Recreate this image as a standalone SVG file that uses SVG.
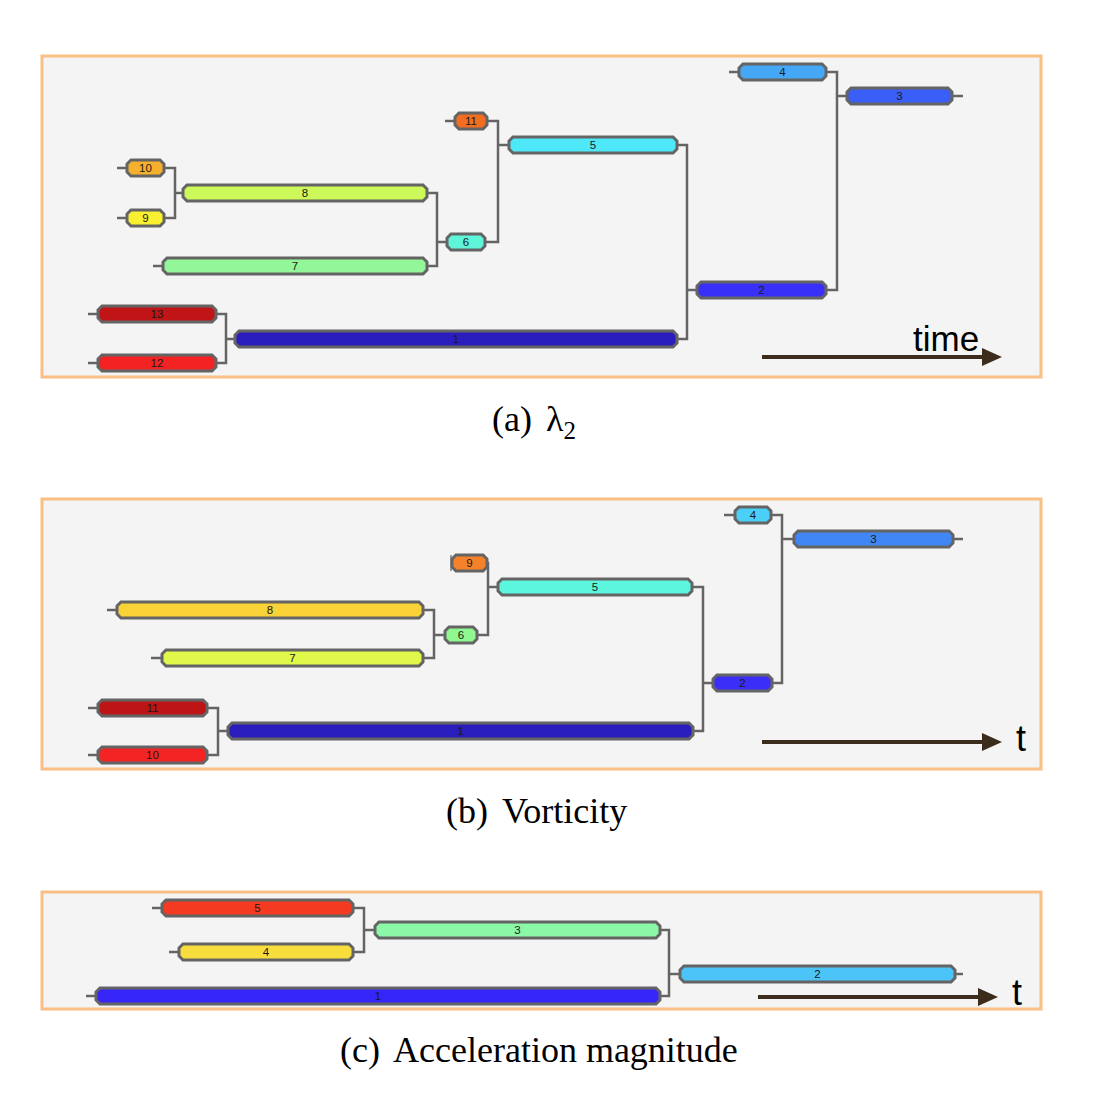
<svg xmlns="http://www.w3.org/2000/svg" width="1120" height="1107" viewBox="0 0 1120 1107">
<style>
.panel{fill:#f4f4f4;stroke:#f9bf85;stroke-width:3}
.node polygon{stroke:#646464;stroke-width:3;stroke-linejoin:miter}
.node text{font-family:"Liberation Sans",Arial,sans-serif;font-size:11.5px;fill:#1a1a1a;text-anchor:middle}
.conn{fill:none;stroke:#646464;stroke-width:2.5}
.axis{stroke:#3b2c1c;stroke-width:4;fill:none}
.head{fill:#3b2c1c}
.axlabel{font-family:"Liberation Sans",Arial,sans-serif;fill:#000}
.cap{font-family:"Liberation Serif","Times New Roman",serif;font-size:36px;fill:#000}
</style>
<rect width="1120" height="1107" fill="#ffffff"/>

<!-- Panel (a) -->
<rect class="panel" x="42" y="56" width="999" height="321"/>
<g id="conn-a">
<path class="conn" d="M729,72H739 M826,72H837V290H826 M837,96H847 M952,96H963 M445,121H455 M487,121H498V242H485 M498,145H509 M677,145H687V339H677 M687,290H697 M117,168H127 M117,218H127 M164,168H175V218H164 M175,193H183 M427,193H437V266H427 M437,242H447 M153,266H163 M88,314H98 M88,363H98 M216,314H226V363H216 M226,339H235"/>
</g>
<g id="a-n4" class="node"><polygon fill="#45a8f6" points="743,64 822,64 826,68 826,76 822,80 743,80 739,76 739,68"/><text x="782.5" y="76">4</text></g>
<g id="a-n3" class="node"><polygon fill="#3a5ef8" points="851,88 948,88 952,92 952,100 948,104 851,104 847,100 847,92"/><text x="899.5" y="100">3</text></g>
<g id="a-n11" class="node"><polygon fill="#f26c21" points="459,113 483,113 487,117 487,125 483,129 459,129 455,125 455,117"/><text x="471" y="125">11</text></g>
<g id="a-n5" class="node"><polygon fill="#4fe8f8" points="513,137 673,137 677,141 677,149 673,153 513,153 509,149 509,141"/><text x="593" y="149">5</text></g>
<g id="a-n10" class="node"><polygon fill="#f5b12e" points="131,160 160,160 164,164 164,172 160,176 131,176 127,172 127,164"/><text x="145.5" y="172">10</text></g>
<g id="a-n9" class="node"><polygon fill="#f8f030" points="131,210 160,210 164,214 164,222 160,226 131,226 127,222 127,214"/><text x="145.5" y="222">9</text></g>
<g id="a-n8" class="node"><polygon fill="#cdf85a" points="187,185 423,185 427,189 427,197 423,201 187,201 183,197 183,189"/><text x="305" y="197">8</text></g>
<g id="a-n6" class="node"><polygon fill="#5ef5d8" points="451,234 481,234 485,238 485,246 481,250 451,250 447,246 447,238"/><text x="466" y="246">6</text></g>
<g id="a-n7" class="node"><polygon fill="#93f799" points="167,258 423,258 427,262 427,270 423,274 167,274 163,270 163,262"/><text x="295" y="270">7</text></g>
<g id="a-n13" class="node"><polygon fill="#c01416" points="102,306 212,306 216,310 216,318 212,322 102,322 98,318 98,310"/><text x="157" y="318">13</text></g>
<g id="a-n12" class="node"><polygon fill="#f42223" points="102,355 212,355 216,359 216,367 212,371 102,371 98,367 98,359"/><text x="157" y="367">12</text></g>
<g id="a-n1" class="node"><polygon fill="#2a1dbd" points="239,331 673,331 677,335 677,343 673,347 239,347 235,343 235,335"/><text x="456" y="343">1</text></g>
<g id="a-n2" class="node"><polygon fill="#3830f8" points="701,282 822,282 826,286 826,294 822,298 701,298 697,294 697,286"/><text x="761.5" y="294">2</text></g>
<g id="a-axis">
<path class="axis" d="M762,357H986"/>
<polygon class="head" points="982,348 1002,357 982,366"/>
<text class="axlabel" x="913" y="351" font-size="35">time</text>
</g>
<text class="cap" x="492" y="431">(a)<tspan x="546">λ</tspan><tspan dy="8" font-size="25">2</tspan></text>

<!-- Panel (b) -->
<rect class="panel" x="42" y="499" width="999" height="270"/>
<g id="conn-b">
<path class="conn" d="M724,515H735 M771,515H782V683H772 M782,539H794 M953,539H963 M487,563H488V635H477 M488,587H498 M423,610H434V658H423 M434,635H445 M107,610H117 M151,658H162 M88,708H98 M88,755H98 M207,708H218V755H207 M218,731H228 M692,587H703V731H693 M703,683H713"/>
<path d="M451,555V571" stroke="#646464" stroke-width="1.2"/>
</g>
<g id="b-n4" class="node"><polygon fill="#4ad0f8" points="739,507 767,507 771,511 771,519 767,523 739,523 735,519 735,511"/><text x="753" y="519">4</text></g>
<g id="b-n3" class="node"><polygon fill="#4086f4" points="798,531 949,531 953,535 953,543 949,547 798,547 794,543 794,535"/><text x="873.5" y="543">3</text></g>
<g id="b-n9" class="node"><polygon fill="#f5822a" points="456,555 483,555 487,559 487,567 483,571 456,571 452,567 452,559"/><text x="469.5" y="567">9</text></g>
<g id="b-n5" class="node"><polygon fill="#5cf6de" points="502,579 688,579 692,583 692,591 688,595 502,595 498,591 498,583"/><text x="595" y="591">5</text></g>
<g id="b-n8" class="node"><polygon fill="#f8d236" points="121,602 419,602 423,606 423,614 419,618 121,618 117,614 117,606"/><text x="270" y="614">8</text></g>
<g id="b-n7" class="node"><polygon fill="#e0f84a" points="166,650 419,650 423,654 423,662 419,666 166,666 162,662 162,654"/><text x="292.5" y="662">7</text></g>
<g id="b-n6" class="node"><polygon fill="#8ff890" points="449,627 473,627 477,631 477,639 473,643 449,643 445,639 445,631"/><text x="461" y="639">6</text></g>
<g id="b-n11" class="node"><polygon fill="#bd1416" points="102,700 203,700 207,704 207,712 203,716 102,716 98,712 98,704"/><text x="152.5" y="712">11</text></g>
<g id="b-n10" class="node"><polygon fill="#f42424" points="102,747 203,747 207,751 207,759 203,763 102,763 98,759 98,751"/><text x="152.5" y="759">10</text></g>
<g id="b-n1" class="node"><polygon fill="#2a1dbd" points="232,723 689,723 693,727 693,735 689,739 232,739 228,735 228,727"/><text x="460.5" y="735">1</text></g>
<g id="b-n2" class="node"><polygon fill="#3a2ef8" points="717,675 768,675 772,679 772,687 768,691 717,691 713,687 713,679"/><text x="742.5" y="687">2</text></g>
<g id="b-axis">
<path class="axis" d="M762,742H986"/>
<polygon class="head" points="982,733 1002,742 982,751"/>
<text class="axlabel" x="1016" y="751" font-size="36">t</text>
</g>
<text class="cap" x="446" y="823">(b)<tspan x="502">Vorticity</tspan></text>

<!-- Panel (c) -->
<rect class="panel" x="42" y="892" width="999" height="117"/>
<g id="conn-c">
<path class="conn" d="M152,908H162 M169,952H179 M86,996H96 M353,908H364V952H353 M364,930H375 M660,930H669V996H660 M669,974H680 M955,974H963"/>
</g>
<g id="c-n5" class="node"><polygon fill="#f53a22" points="166,900 349,900 353,904 353,912 349,916 166,916 162,912 162,904"/><text x="257.5" y="912">5</text></g>
<g id="c-n4" class="node"><polygon fill="#f8de3c" points="183,944 349,944 353,948 353,956 349,960 183,960 179,956 179,948"/><text x="266" y="956">4</text></g>
<g id="c-n3" class="node"><polygon fill="#8af8a6" points="379,922 656,922 660,926 660,934 656,938 379,938 375,934 375,926"/><text x="517.5" y="934">3</text></g>
<g id="c-n1" class="node"><polygon fill="#3626f8" points="100,988 656,988 660,992 660,1000 656,1004 100,1004 96,1000 96,992"/><text x="378" y="1000">1</text></g>
<g id="c-n2" class="node"><polygon fill="#4cc4f8" points="684,966 951,966 955,970 955,978 951,982 684,982 680,978 680,970"/><text x="817.5" y="978">2</text></g>
<g id="c-axis">
<path class="axis" d="M758,997H982"/>
<polygon class="head" points="978,988 998,997 978,1006"/>
<text class="axlabel" x="1012" y="1005" font-size="36">t</text>
</g>
<text class="cap" x="340" y="1062">(c)<tspan x="393">Acceleration magnitude</tspan></text>
</svg>
